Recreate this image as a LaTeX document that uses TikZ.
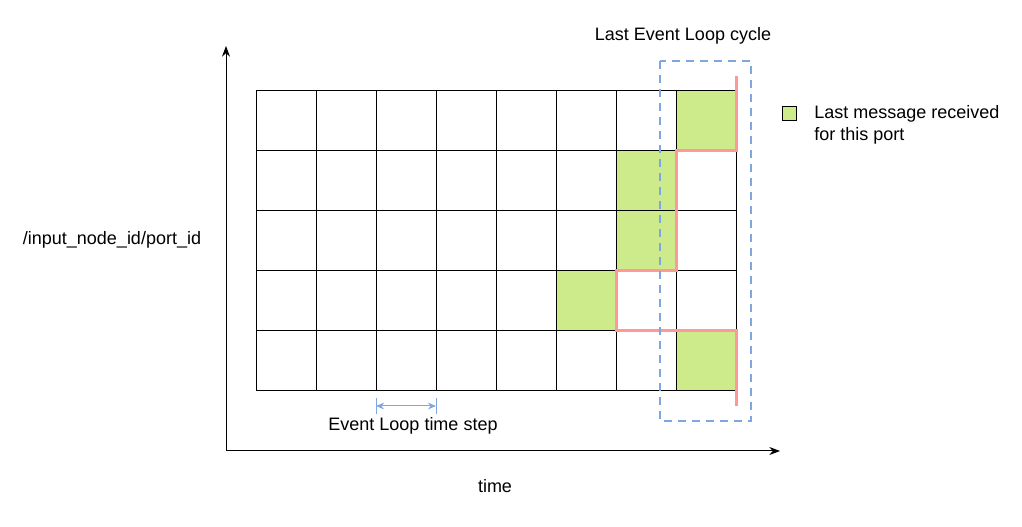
\documentclass[tikz,border=0pt]{standalone}
\usepackage{fontspec}
\setmainfont{Liberation Sans}
\usetikzlibrary{arrows.meta}
\definecolor{gfill}{HTML}{CDEB8B}
\definecolor{redl}{HTML}{FF9999}
\definecolor{bluel}{HTML}{7EA6E0}
\tikzset{cell/.style={draw=black,fill=gfill,line width=0.75pt},
 lbl/.style={font=\fontsize{13.5pt}{16.5pt}\selectfont,inner sep=0pt}}
\begin{document}
\begin{tikzpicture}[x=0.75pt,y=-0.75pt]
\useasboundingbox (0,0) rectangle (1022,527);
% green cells
\foreach \c/\r in {7/0,6/1,6/2,5/3,7/4}
  \fill[gfill] (256+60*\c,91+60*\r) rectangle ++(60,60);
% grid
\foreach \i in {0,...,8} \draw[line width=0.75pt] (256+60*\i,91) -- (256+60*\i,391);
\foreach \j in {0,...,5} \draw[line width=0.75pt] (256,91+60*\j) -- (736,91+60*\j);
% red line
\draw[redl,line width=2.25pt] (736,76) -- (736,151) -- (676,151) -- (676,271) -- (616,271) -- (616,331) -- (736,331) -- (736,406);
% blue dashed rect
\draw[bluel,line width=1.5pt,dash pattern=on 6pt off 4.5pt] (660,61) rectangle (751,421);
% axes
\coordinate (o) at (226,451);
\coordinate (yt) at (226,46);
\coordinate (xt) at (780,451);
\draw[line width=0.75pt,-{Stealth[length=8pt,width=6pt]}] (o) -- (yt);
\draw[line width=0.75pt,-{Stealth[length=8pt,width=6pt]}] (o) -- (xt);
% time step arrow
\coordinate (a1) at (376,406); \coordinate (a2) at (436,406);
\draw[bluel,line width=0.75pt] (376,398) -- (376,414) (436,398) -- (436,414);
\draw[bluel,line width=0.75pt,{Stealth[length=6pt,width=5pt]}-{Stealth[length=6pt,width=5pt]}] (a1) -- (a2);
% legend
\node[cell,minimum size=10.5pt,inner sep=0pt] (leg) at (789,114) {};
\node[lbl,anchor=west,align=left] (legt) at (814,125) {Last message received\\for this port};
% labels
\node[lbl] (ts) at (413,426) {Event Loop time step};
\node[lbl] (tm) at (495,486) {time};
\node[lbl] (yl) at (112,240) {/input\_node\_id/port\_id};
\node[lbl] (cy) at (683,36) {Last Event Loop cycle};
\end{tikzpicture}
\end{document}
